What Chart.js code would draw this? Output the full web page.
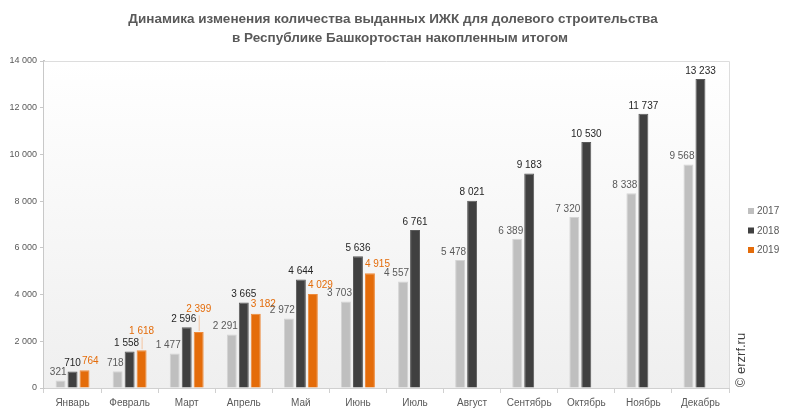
<!DOCTYPE html>
<html>
<head>
<meta charset="utf-8">
<script src="https://cdn.jsdelivr.net/npm/chart.js@4"></script>
<style>
  html, body { margin: 0; padding: 0; background: #fff; }
  #wrap { width: 792px; height: 415px; }
</style>
</head>
<body>
<div id="wrap"><canvas id="graphic" width="792" height="415"></canvas></div>
<script>
var months = ['Январь', 'Февраль', 'Март', 'Апрель', 'Май', 'Июнь', 'Июль', 'Август', 'Сентябрь', 'Октябрь', 'Ноябрь', 'Декабрь'];
var years = ['2017', '2018', '2019'];
var values2017 = [321, 718, 1477, 2291, 2972, 3703, 4557, 5478, 6389, 7320, 8338, 9568];
var values2018 = [710, 1558, 2596, 3665, 4644, 5636, 6761, 8021, 9183, 10530, 11737, 13233];
var values2019 = [764, 1618, 2399, 3182, 4029, 4915, null, null, null, null, null, null];
var yTicks = [0, 2000, 4000, 6000, 8000, 10000, 12000, 14000];

var titleLines = ['Динамика изменения количества выданных ИЖК для долевого строительства', 'в Республике Башкортостан накопленным итогом'];
var barColors = ['#bfbfbf', '#404040', '#e46c0a'];
var barBorders = ['#d4d4d4', '#5a5a5a', '#ee8a3a'];
var labelColors = ['#595959', '#262626', '#e46c0a'];

function fmt(v) {
    return String(v).replace(/\B(?=(\d{3})+(?!\d))/g, ' ');
}

var ctx = document.getElementById('graphic').getContext('2d');

// plot background, title, legend, copyright and value labels
var decorPlugin = {
    id: 'decor',
    beforeDatasetsDraw: function (chart) {
        var c = chart.ctx, a = chart.chartArea;
        c.save();
        var g = c.createLinearGradient(0, a.top, 0, a.bottom);
        g.addColorStop(0, '#ffffff');
        g.addColorStop(1, '#efefef');
        c.fillStyle = g;
        c.fillRect(a.left, a.top, a.right - a.left, a.bottom - a.top);
        c.strokeStyle = '#dddddd';
        c.lineWidth = 1;
        c.beginPath();
        c.moveTo(a.left, a.top + 0.5);
        c.lineTo(a.right + 0.5, a.top + 0.5);
        c.lineTo(a.right + 0.5, a.bottom);
        c.stroke();
        c.restore();
    },
    afterDatasetsDraw: function (chart) {
        var c = chart.ctx;
        c.save();
        c.font = '10px "Liberation Sans", Arial, sans-serif';
        c.textBaseline = 'middle';
        var m0 = chart.getDatasetMeta(0), m1 = chart.getDatasetMeta(1), m2 = chart.getDatasetMeta(2);
        for (var i = 0; i < months.length; i++) {
            var b0 = m0.data[i], b1 = m1.data[i], b2 = m2.data[i];
            // 2017: right edge at the bar's right edge
            c.textAlign = 'right';
            c.fillStyle = labelColors[0];
            c.fillText(fmt(values2017[i]), b0.x + b0.width / 2 + 1, b0.y - 8);
            var t1 = fmt(values2018[i]);
            var w1 = c.measureText(t1).width;
            var x1 = b1.x;
            var y1 = b1.y - 8;
            if (values2019[i] !== null) {
                // 2019: starts at the bar's left edge; lifted above the 2018 label if they meet
                var t2 = fmt(values2019[i]);
                var x2 = b2.x - b2.width / 2;
                var y2 = b2.y - 9;
                c.textAlign = 'left';
                if (Math.abs(y2 - y1) < 9 && x1 + w1 / 2 > x2 + 2) {
                    x1 = x1 - 3;
                    y2 = Math.min(y1, y2) - 10;
                    c.textAlign = 'center';
                    x2 = b2.x;
                    c.strokeStyle = '#f4c4a0';
                    c.lineWidth = 1;
                    c.beginPath();
                    c.moveTo(b2.x + 0.5, y2 + 6);
                    c.lineTo(b2.x + 0.5, b2.y - 1);
                    c.stroke();
                } else if (Math.abs(y2 - y1) < 9) {
                    x2 = Math.max(x2, x1 + w1 / 2 + 1);
                }
                c.fillStyle = labelColors[2];
                c.fillText(t2, x2, y2);
            }
            c.textAlign = 'center';
            c.fillStyle = labelColors[1];
            c.fillText(t1, x1, y1);
        }
        c.restore();
    },
    afterDraw: function (chart) {
        var c = chart.ctx;
        c.save();
        // title
        c.fillStyle = '#595959';
        c.font = 'bold 13.5px "Liberation Sans", Arial, sans-serif';
        c.textAlign = 'center';
        c.textBaseline = 'middle';
        c.fillText(titleLines[0], 393, 19);
        c.fillText(titleLines[1], 400, 38);
        // legend
        c.font = '10px "Liberation Sans", Arial, sans-serif';
        c.textAlign = 'left';
        for (var i = 0; i < years.length; i++) {
            var y = 211 + i * 19.5;
            c.fillStyle = barColors[i];
            c.fillRect(748, y - 3, 6, 6);
            c.fillStyle = '#595959';
            c.fillText(years[i], 757, y + 0.5);
        }
        // copyright
        c.translate(741, 360);
        c.rotate(-Math.PI / 2);
        c.fillStyle = '#404040';
        c.font = '13px "Liberation Sans", Arial, sans-serif';
        c.textAlign = 'center';
        c.fillText('© erzrf.ru', 0, 0);
        c.restore();
    }
};

var graphic = new Chart(ctx, {
    type: 'bar',
    data: {
        labels: months,
        datasets: [
            { label: years[0], data: values2017, backgroundColor: barColors[0], borderColor: barBorders[0], borderWidth: 1 },
            { label: years[1], data: values2018, backgroundColor: barColors[1], borderColor: barBorders[1], borderWidth: 1 },
            { label: years[2], data: values2019, backgroundColor: barColors[2], borderColor: barBorders[2], borderWidth: 1 }
        ]
    },
    options: {
        responsive: false,
        animation: false,
        events: [],
        layout: { padding: { top: 61, right: 63, left: 0, bottom: 0 } },
        datasets: { bar: { categoryPercentage: 0.63, barPercentage: 0.83 } },
        plugins: {
            legend: { display: false },
            title: { display: false },
            tooltip: { enabled: false }
        },
        scales: {
            x: {
                afterFit: function (s) { s.height = 27; },
                border: { color: '#d0d0d0', width: 1 },
                grid: { drawOnChartArea: false, drawTicks: true, tickLength: 5, color: '#d0d0d0', offset: true },
                ticks: { color: '#595959', font: { size: 10, family: '"Liberation Sans", Arial, sans-serif' }, padding: 4, maxRotation: 0, autoSkip: false }
            },
            y: {
                min: 0,
                max: 14000,
                afterFit: function (s) { s.width = 44; },
                afterBuildTicks: function (s) { s.ticks = yTicks.map(function (v) { return { value: v }; }); },
                border: { color: '#c8c8c8', width: 2 },
                grid: { drawOnChartArea: false, drawTicks: true, tickLength: 4, color: '#c8c8c8' },
                ticks: {
                    color: '#595959',
                    font: { size: 9, family: '"Liberation Sans", Arial, sans-serif' },
                    padding: 3,
                    callback: function (v) { return fmt(v); }
                }
            }
        }
    },
    plugins: [decorPlugin]
});
</script>
</body>
</html>
